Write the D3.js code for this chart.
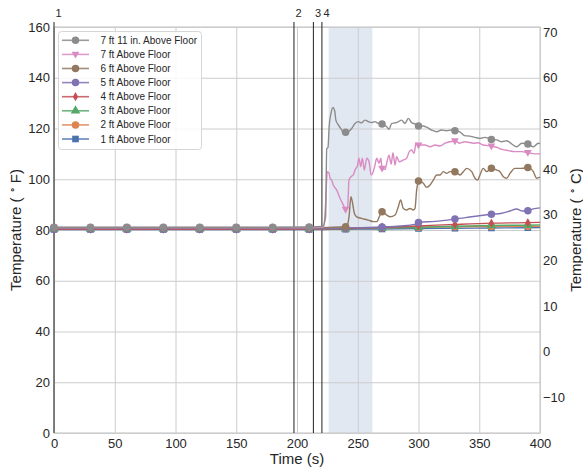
<!DOCTYPE html>
<html><head><meta charset="utf-8">
<script src="https://cdn.jsdelivr.net/npm/d3@7"></script>
<style>
html,body{margin:0;padding:0;background:#fff;}
svg{display:block;font-family:"Liberation Sans",Arial,sans-serif;}
</style></head>
<body><svg id="c" width="583" height="467"></svg>
<script>
// ---------- data ----------
const xTicks = [0, 50, 100, 150, 200, 250, 300, 350, 400];
const yTicksF = [0, 20, 40, 60, 80, 100, 120, 140, 160];
const yTicksC = [-10, 0, 10, 20, 30, 40, 50, 60, 70];
const eventTimes = [0, 197.5, 213.5, 220.5];
const eventLabels = ["1", "2", "3", "4"];
const shadeStart = 226, shadeEnd = 262;
const markerTimes = [0, 30, 60, 90, 120, 150, 180, 210, 240, 270, 300, 330, 360, 390];

const seriesNames = ["7 ft 11 in. Above Floor", "7 ft Above Floor", "6 ft Above Floor", "5 ft Above Floor",
                     "4 ft Above Floor", "3 ft Above Floor", "2 ft Above Floor", "1 ft Above Floor"];
const seriesColors = ["#8c8c8c", "#da8bc3", "#937860", "#8172b3", "#c44e52", "#55a868", "#dd8452", "#4c72b0"];
const seriesMarkers = ["circle", "triDown", "circle", "circle", "thinDiamond", "triUp", "circle", "square"];

const tc7ft11 = [[0,81.1],[30,81.1],[60,81.1],[90,81.1],[120,81.1],[150,81.1],[180,81.1],[210,81.2],[221,81.4],[223.5,85],
  [224.5,112],[225.5,112.5],[226.5,121],[228,126],[229.5,128.3],[231,127],[232,123.3],[234,121.4],[236.8,119.4],[238,118.3],
  [240,118.5],[242,118.7],[245,120],[247.7,122],[250.5,122.7],[253,122.2],[256,123.3],[258.7,122.7],[261.5,122.3],[264,122.7],
  [267,122],[270,121.8],[273.8,120.7],[275.7,119.7],[278,122],[280.7,122.2],[283.4,122.7],[286,123.3],[288.9,122],[291.6,124],
  [294.4,122.3],[297,121.8],[300,121],[304,121],[306.7,120.5],[310.8,119.4],[315,118.7],[319,119.4],[323,119.1],[327.3,119.4],
  [330,119.1],[334,118.7],[338,117.2],[342,117],[346.5,116.5],[350.6,116.1],[354.7,116.5],[360,115.7],[364.4,115.5],[368.5,114.8],
  [372.6,115.2],[376.7,113.9],[380.8,112.8],[385,114.2],[390,113.9],[394.5,112.8],[398.6,114.2],[400,114]];

const tc7ft = [[0,81],[30,81],[60,81],[90,81],[120,81],[150,81],[180,81],[210,81],[222,81.2],[223.5,90],
  [225,103],[226.4,102.3],[227.2,100.4],[228.5,99.7],[229.9,97.7],[232.6,95.8],[235.4,92.5],[238.1,89.9],[240,88.1],[241.7,89.2],
  [242.8,99.7],[244.4,101],[246.3,101.7],[247.7,103.6],[249.9,105.6],[251,108.3],[252.4,105],[253.8,108.3],[255.4,103.6],[257.4,108.3],
  [259.3,106.9],[261,101.7],[262.8,103],[264.2,105.6],[265.6,108.3],[267.5,106.3],[269,108.3],[270,104.3],[272.6,103.9],[273.8,106.3],
  [275.7,109.5],[277.5,106],[279,110.5],[280.7,105.6],[282,108.9],[284.2,106.9],[287.5,107.6],[290.3,108.3],[292.4,110.9],[294.4,111.5],
  [296.3,110.2],[298,114.2],[300,113.5],[305.3,113.5],[309.5,112.8],[313.6,113.5],[317.7,113.1],[321.8,114.2],[325.9,114.8],[330,115.1],
  [334,114.2],[338,114.8],[342,114.5],[345,114.2],[349,114.4],[353,113.5],[360,113.1],[364.4,112.6],[368.5,111.8],[374,111.3],
  [379.4,110.9],[385,110.9],[390,110.5],[395.9,110],[400,110]];

const tc6ft = [[0,80.9],[30,80.9],[60,80.9],[90,80.9],[120,80.9],[150,80.9],[180,80.9],[210,80.9],[240,81.3],[241.5,82],
  [242.8,85.2],[244.4,93.1],[245.5,91.2],[247.2,86.6],[249.1,85.2],[253.2,84.6],[258.7,83.9],[262.8,83.3],[265.6,83.3],[268.3,85.9],
  [270,87.2],[273.8,85.9],[276.5,85.2],[280.7,85.9],[283.4,89.2],[285.3,91.8],[287.5,88.5],[290.3,87.9],[293,88.5],[295.7,87.9],
  [297.1,88.5],[298.5,95.8],[299.8,99],[300,99.3],[302.7,99],[304,98.4],[306.7,96.8],[309.5,97.7],[312.2,99.7],[315,101.7],
  [317.7,101.7],[320.4,103],[323.2,102.3],[325.9,103],[330,103],[334.2,101.7],[336.9,103],[339.7,104.3],[343.8,103],[346.5,100.4],
  [348.7,99.7],[350.6,101.7],[353.3,104.3],[356.1,103],[360,104.3],[364.4,103.6],[367,103],[369.8,101],[372.6,100.4],[375.3,102.3],
  [379.4,104.3],[385,104.3],[390,104.6],[394.5,103],[397.3,100.4],[400,100.8]];

const tc5ft = [[0,80.6],[30,80.6],[60,80.6],[90,80.6],[120,80.6],[150,80.6],[180,80.6],[210,80.6],[240,80.8],[270,81.2],
  [285,81.6],[297,82.2],[300,83],[313.6,83.4],[330,84.3],[343.8,85.2],[354.7,85.9],[360,86.2],[368.5,86.6],[375.3,87.5],
  [380.8,88.3],[385,87.5],[390,87.6],[394.5,88.3],[400,88.7]];

const tc4ft = [[0,80.3],[30,80.3],[60,80.3],[90,80.3],[120,80.3],[150,80.3],[180,80.3],[210,80.4],[240,80.6],[270,81],
  [300,81.6],[330,82.2],[360,82.7],[390,82.9],[400,83]];

const tc3ft = [[0,80.4],[30,80.4],[60,80.4],[90,80.4],[120,80.4],[150,80.4],[180,80.4],[210,80.4],[240,80.5],[270,80.8],
  [300,81.1],[330,81.5],[360,81.8],[390,81.9],[400,82]];

const tc2ft = [[0,80.6],[30,80.6],[60,80.6],[90,80.6],[120,80.6],[150,80.6],[180,80.6],[210,80.6],[240,80.7],[270,80.9],
  [300,81.1],[330,81.3],[360,81.4],[390,81.5],[400,81.5]];

const tc1ft = [[0,80.2],[30,80.2],[60,80.2],[90,80.2],[120,80.2],[150,80.2],[180,80.2],[210,80.2],[240,80.3],[270,80.4],
  [300,80.6],[330,80.7],[360,80.8],[390,80.9],[400,81]];

const seriesData = [tc7ft11, tc7ft, tc6ft, tc5ft, tc4ft, tc3ft, tc2ft, tc1ft];

// ---------- chart ----------
const svg = d3.select("#c");
const L = 54, R = 540, T = 27, B = 433;
const x = d3.scaleLinear().domain([0, 400]).range([L, R]);
const y = d3.scaleLinear().domain([0, 160]).range([B, T]);
const yC = d3.scaleLinear().domain([(0 - 32) * 5 / 9, (160 - 32) * 5 / 9]).range([B, T]);
const txt = "#262626", gridC = "#cccccc";

// shade
svg.append("rect").attr("x", x(shadeStart)).attr("y", T).attr("width", x(shadeEnd) - x(shadeStart))
  .attr("height", B - T).attr("fill", "#4c72b0").attr("fill-opacity", 0.16);

// grid + axes
const gx = svg.append("g").attr("transform", `translate(0,${B})`)
  .call(d3.axisBottom(x).tickValues(xTicks).tickSize(-(B - T)).tickPadding(6).tickFormat(d3.format("d")));
const gy = svg.append("g").attr("transform", `translate(${L},0)`)
  .call(d3.axisLeft(y).tickValues(yTicksF).tickSize(-(R - L)).tickPadding(4).tickFormat(d3.format("d")));
const gyr = svg.append("g").attr("transform", `translate(${R},0)`)
  .call(d3.axisRight(yC).tickValues(yTicksC).tickSize(0).tickPadding(3).tickFormat(d3.format("d")));
[gx, gy, gyr].forEach(g => {
  g.select(".domain").remove();
  g.selectAll(".tick line").attr("stroke", gridC).attr("stroke-width", 1);
  g.selectAll(".tick text").attr("fill", txt).attr("font-size", 13)
    .attr("font-family", "'Liberation Sans', Arial, sans-serif");
});
gyr.selectAll(".tick text").text(d => d < 0 ? "\u2212" + Math.abs(d) : d);

// spines
svg.append("rect").attr("x", L).attr("y", T).attr("width", R - L).attr("height", B - T)
  .attr("fill", "none").attr("stroke", gridC).attr("stroke-width", 1.25);

// event lines
eventTimes.forEach((t, i) => {
  svg.append("line").attr("x1", x(t)).attr("x2", x(t)).attr("y1", 22).attr("y2", B)
    .attr("stroke", "#222").attr("stroke-width", 1);
  svg.append("text").attr("x", x(t) + 1.5).attr("y", 17).attr("font-size", 11).attr("fill", txt)
    .text(eventLabels[i]);
});

// markers
function markerPath(kind) {
  if (kind === "circle") return d3.symbol().type(d3.symbolCircle).size(44)();
  if (kind === "square") return d3.symbol().type(d3.symbolSquare).size(44)();
  if (kind === "triUp") return d3.symbol().type(d3.symbolTriangle).size(40)();
  if (kind === "triDown") return "M-3.9,-2.6L3.9,-2.6L0,4.2Z";
  if (kind === "thinDiamond") return "M0,-4.6L2.6,0L0,4.6L-2.6,0Z";
}

const line = d3.line().x(d => x(d[0])).y(d => y(d[1])).curve(d3.curveMonotoneX);
for (let i = seriesData.length - 1; i >= 0; i--) {
  const d = seriesData[i];
  const g = svg.append("g");
  g.append("path").datum(d).attr("d", line).attr("fill", "none")
    .attr("stroke", seriesColors[i]).attr("stroke-width", 1.4);
  g.selectAll("path.m").data(d.filter(p => markerTimes.includes(p[0]))).enter().append("path")
    .attr("class", "m").attr("d", markerPath(seriesMarkers[i]))
    .attr("transform", p => `translate(${x(p[0])},${y(p[1])})`).attr("fill", seriesColors[i]);
}

// legend
const lg = svg.append("g");
lg.append("rect").attr("x", 58.5).attr("y", 31.5).attr("width", 143).attr("height", 118).attr("rx", 3)
  .attr("fill", "#fff").attr("fill-opacity", 0.85).attr("stroke", "#d6d6d6");
seriesNames.forEach((n, i) => {
  const yy = 40.3 + i * 14.1;
  lg.append("line").attr("x1", 62).attr("x2", 89).attr("y1", yy).attr("y2", yy)
    .attr("stroke", seriesColors[i]).attr("stroke-width", 1.6).attr("stroke-opacity", 0.85);
  lg.append("path").attr("d", markerPath(seriesMarkers[i])).attr("transform", `translate(75.5,${yy})`)
    .attr("fill", seriesColors[i]);
  lg.append("text").attr("x", 100.5).attr("y", yy).attr("dy", "0.35em").attr("font-size", 10)
    .attr("fill", txt).text(n);
});

// axis titles
svg.append("text").attr("x", (L + R) / 2).attr("y", 464).attr("text-anchor", "middle")
  .attr("font-size", 15).attr("fill", txt).text("Time (s)");
function degLabel(g, unit) {
  g.append("tspan").text("Temperature ( ");
  g.append("tspan").attr("font-size", 10).attr("dy", -6).text("\u2218");
  g.append("tspan").attr("dy", 6).text(" " + unit + ")");
}
const lt = svg.append("text").attr("transform", `translate(21,${(T + B) / 2}) rotate(-90)`)
  .attr("text-anchor", "middle").attr("font-size", 15).attr("fill", txt);
degLabel(lt, "F");
const rt = svg.append("text").attr("transform", `translate(581,${(T + B) / 2}) rotate(-90)`)
  .attr("text-anchor", "middle").attr("font-size", 15).attr("fill", txt);
degLabel(rt, "C");
</script>
</body></html>
